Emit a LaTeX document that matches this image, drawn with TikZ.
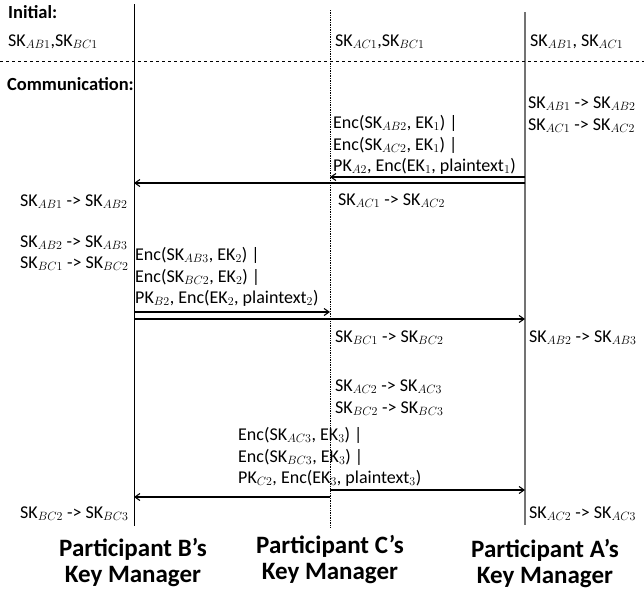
\documentclass[tikz,border=0pt]{standalone}
\usepackage{fontspec}
\setmainfont{Carlito}
\usetikzlibrary{arrows.meta}
\DeclareMathSizes{18}{18}{13}{10}
\newcommand{\SKx}[1]{SK$_{#1}$}
\newcommand{\Ax}{ -> }
\begin{document}
\begin{tikzpicture}[x=1pt,y=-1pt,
  txt/.style={anchor=base west,inner sep=0pt,font=\fontsize{18}{21}\selectfont},
  hdr/.style={anchor=base west,inner sep=0pt,font=\fontsize{18.5}{22}\selectfont\bfseries},
  lbl/.style={align=center,inner sep=0pt,font=\fontsize{25}{26}\selectfont\bfseries},
  msg/.style={line width=1.1pt,-{Straight Barb[length=5pt,width=7pt]}},
  lifeB/.style={line width=0.9pt,black},
  lifeC/.style={line width=0.7pt,densely dotted,black},
  lifeA/.style={line width=1.5pt,black!55}]
\useasboundingbox (0,0) rectangle (644,590);
% lifelines
\coordinate (Btop) at (134,4);   \coordinate (Bbot) at (134,526);
\coordinate (Ctop) at (330,10);  \coordinate (Cbot) at (330,527);
\coordinate (Atop) at (525,12);  \coordinate (Abot) at (525,525);
\draw[lifeB] (Btop) -- (Bbot);
\draw[lifeC] (Ctop) -- (Cbot);
\draw[lifeA] (Atop) -- (Abot);
% separator
\coordinate (sepL) at (0,61); \coordinate (sepR) at (644,61);
\draw[dashed,line width=0.8pt] (sepL) -- (sepR);
% headers
\node[hdr] (hInit) at (8,18) {Initial:};
\node[hdr] (hComm) at (7,90) {Communication:};
% initial keys
\node[txt] (iB) at (8,46) {\SKx{AB1},\SKx{BC1}};
\node[txt] (iC) at (335,46) {\SKx{AC1},\SKx{BC1}};
\node[txt] (iA) at (530,46) {\SKx{AB1}, \SKx{AC1}};
% step 1
\node[txt] (a1) at (528,108) {\SKx{AB1}\Ax\SKx{AB2}};
\node[txt] (a2) at (528,130) {\SKx{AC1}\Ax\SKx{AC2}};
\node[txt] (m1a) at (333,128) {Enc(\SKx{AB2}, EK$_1$) |};
\node[txt] (m1b) at (333,150) {Enc(\SKx{AC2}, EK$_1$) |};
\node[txt] (m1c) at (333,171) {PK$_{A2}$, Enc(EK$_1$, plaintext$_1$)};
\coordinate (A1s) at (525,177); \coordinate (C1e) at (330,177);
\coordinate (A1t) at (525,183); \coordinate (B1e) at (134,183);
\draw[msg] (A1s) -- (C1e);
\draw[msg] (A1t) -- (B1e);
\node[txt] (c1) at (338,205) {\SKx{AC1}\Ax\SKx{AC2}};
\node[txt] (b1) at (20,206) {\SKx{AB1}\Ax\SKx{AB2}};
% step 2
\node[txt] (b2) at (20,247) {\SKx{AB2}\Ax\SKx{AB3}};
\node[txt] (b3) at (20,268) {\SKx{BC1}\Ax\SKx{BC2}};
\node[txt] (m2a) at (135,260) {Enc(\SKx{AB3}, EK$_2$) |};
\node[txt] (m2b) at (135,282) {Enc(\SKx{BC2}, EK$_2$) |};
\node[txt] (m2c) at (135,303) {PK$_{B2}$, Enc(EK$_2$, plaintext$_2$)};
\coordinate (B2s) at (134,312); \coordinate (C2e) at (330,312);
\coordinate (B2t) at (134,319); \coordinate (A2e) at (525,319);
\draw[msg] (B2s) -- (C2e);
\draw[msg] (B2t) -- (A2e);
\node[txt] (c2) at (335,342) {\SKx{BC1}\Ax\SKx{BC2}};
\node[txt] (a3) at (529,342) {\SKx{AB2}\Ax\SKx{AB3}};
% step 3
\node[txt] (c3) at (335,391) {\SKx{AC2}\Ax\SKx{AC3}};
\node[txt] (c4) at (335,413) {\SKx{BC2}\Ax\SKx{BC3}};
\node[txt] (m3a) at (238,440) {Enc(\SKx{AC3}, EK$_3$) |};
\node[txt] (m3b) at (238,462) {Enc(\SKx{BC3}, EK$_3$) |};
\node[txt] (m3c) at (238,483) {PK$_{C2}$, Enc(EK$_3$, plaintext$_3$)};
\coordinate (C3s) at (330,490); \coordinate (A3e) at (525,490);
\coordinate (C3t) at (330,497); \coordinate (B3e) at (134,497);
\draw[msg] (C3s) -- (A3e);
\draw[msg] (C3t) -- (B3e);
\node[txt] (b4) at (20,518) {\SKx{BC2}\Ax\SKx{BC3}};
\node[txt] (a4) at (529,518) {\SKx{AC2}\Ax\SKx{AC3}};
% participants
\node[lbl] (pB) at (133,563) {Participant B’s\\Key Manager};
\node[lbl] (pC) at (330,560) {Participant C’s\\Key Manager};
\node[lbl] (pA) at (545,564) {Participant A’s\\Key Manager};
\end{tikzpicture}
\end{document}
